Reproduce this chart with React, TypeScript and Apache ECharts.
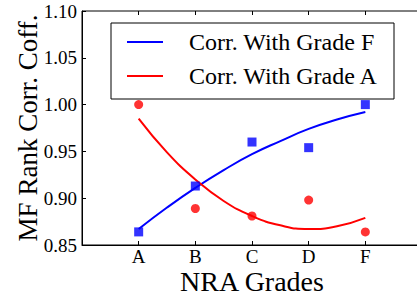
import React, { useEffect, useRef } from "react";
import * as echarts from "echarts";

const grades = ["A", "B", "C", "D", "F"];
const gradeF = [0.864, 0.913, 0.96, 0.954, 1.0];
const gradeA = [1.0, 0.889, 0.881, 0.898, 0.864];
const fitX = [0, 0.5, 1, 1.5, 2, 2.5, 3, 3.5, 4];
const fitF = [0.867, 0.89, 0.911, 0.93, 0.947, 0.961, 0.974, 0.984, 0.992];
const fitA = [0.985, 0.949, 0.92, 0.897, 0.881, 0.871, 0.867, 0.87, 0.879];

const FONT = "'Liberation Serif', 'Times New Roman', serif";

export default function App() {
  const ref = useRef<HTMLDivElement>(null);
  useEffect(() => {
    if (!ref.current) return;
    const chart = echarts.init(ref.current, null, { renderer: "svg" });
    const xLabel = (v: number) => {
      const i = Math.round(v);
      return i >= 0 && i < grades.length && Math.abs(v - i) < 1e-6 ? grades[i] : "";
    };
    chart.setOption({
      animation: false,
      backgroundColor: "#fff",
      textStyle: { fontFamily: FONT, color: "#000" },
      grid: {
        left: 82,
        top: 11,
        bottom: 53,
        width: 340,
        show: true,
        borderColor: "#000",
        borderWidth: 1,
        containLabel: false,
        outerBoundsMode: "none",
      },
      legend: {
        data: ["Corr. With Grade F", "Corr. With Grade A"],
        orient: "vertical",
        left: 127,
        top: 30,
        padding: 0,
        itemGap: 10,
        icon: "rect",
        itemWidth: 36,
        itemHeight: 2,
        textStyle: { fontFamily: FONT, fontSize: 24, color: "#000", padding: [0, 0, 0, 21] },
      },
      graphic: [
        {
          type: "rect",
          z: 0,
          shape: { x: 111, y: 23, width: 283, height: 76 },
          style: { fill: "#fff", stroke: "#000", lineWidth: 1 },
        },
      ],
      xAxis: [
        {
          type: "value",
          min: -1,
          max: 5,
          interval: 1,
          name: "NRA Grades",
          nameLocation: "middle",
          nameGap: 22,
          nameMoveOverlap: false,
          nameTextStyle: { fontFamily: FONT, fontSize: 28, color: "#000" },
          axisLine: { show: true, onZero: false, lineStyle: { color: "#000" } },
          axisTick: { show: true, inside: true, length: 4, lineStyle: { color: "#000" } },
          axisLabel: { formatter: xLabel, fontFamily: FONT, fontSize: 19, color: "#000", margin: 2 },
          splitLine: { show: false },
        },
        {
          type: "value",
          position: "top",
          min: -1,
          max: 5,
          interval: 1,
          axisLine: { show: false, onZero: false },
          axisTick: { show: true, inside: true, length: 4, lineStyle: { color: "#000" } },
          axisLabel: { show: false },
          splitLine: { show: false },
        },
      ],
      yAxis: {
        type: "value",
        min: 0.85,
        max: 1.1,
        interval: 0.05,
        name: "MF Rank Corr. Coff.",
        nameLocation: "middle",
        nameGap: 41,
        nameMoveOverlap: false,
        nameTextStyle: { fontFamily: FONT, fontSize: 27, color: "#000" },
        axisLine: { show: true, onZero: false, lineStyle: { color: "#000" } },
        axisTick: { show: true, inside: true, length: 4, lineStyle: { color: "#000" } },
        axisLabel: { formatter: (v: number) => v.toFixed(2), fontFamily: FONT, fontSize: 19, color: "#000", margin: 5 },
        splitLine: { show: false },
      },
      series: [
        {
          name: "Corr. With Grade F",
          type: "line",
          data: fitX.map((x, i) => [x, fitF[i]]),
          smooth: true,
          showSymbol: false,
          lineStyle: { color: "#0000ff", width: 2 },
          itemStyle: { color: "#0000ff" },
          z: 3,
        },
        {
          name: "Corr. With Grade A",
          type: "line",
          data: fitX.map((x, i) => [x, fitA[i]]),
          smooth: true,
          showSymbol: false,
          lineStyle: { color: "#ff0000", width: 2 },
          itemStyle: { color: "#ff0000" },
          z: 3,
        },
        {
          name: "Grade F points",
          type: "scatter",
          data: grades.map((_, i) => [i, gradeF[i]]),
          symbol: "rect",
          symbolSize: 9,
          itemStyle: { color: "#0000ff" },
          z: 4,
        },
        {
          name: "Grade A points",
          type: "scatter",
          data: grades.map((_, i) => [i, gradeA[i]]),
          symbol: "circle",
          symbolSize: 9,
          itemStyle: { color: "#ff0000" },
          z: 4,
        },
      ],
    });
    return () => chart.dispose();
  }, []);
  return <div ref={ref} style={{ width: 417, height: 298, position: "absolute", left: 0, top: 0 }} />;
}
